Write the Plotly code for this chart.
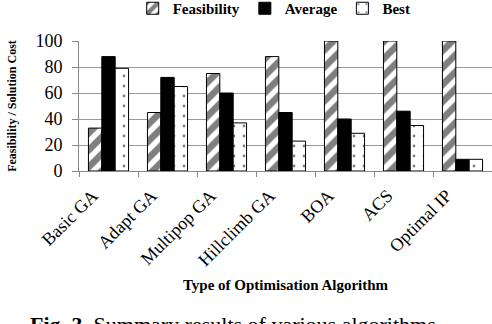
import plotly.graph_objects as go

algorithms = ["Basic GA", "Adapt GA", "Multipop GA", "Hillclimb GA", "BOA", "ACS", "Optimal IP"]
feasibility = [33, 45, 75, 88, 100, 100, 100]
average = [88, 72, 60, 45, 40, 46, 9]
best = [79, 65, 37, 23, 29, 35, 9]

serif = "Liberation Serif"

fig = go.Figure()
fig.add_trace(go.Bar(x=algorithms, y=feasibility, name="<b>Feasibility</b>",
                     marker=dict(color="white", line=dict(color="black", width=1),
                                 pattern=dict(shape="/", fgcolor="black", bgcolor="white",
                                              size=12, solidity=0.55))))
fig.add_trace(go.Bar(x=algorithms, y=average, name="<b>Average</b>",
                     marker=dict(color="black", line=dict(color="black", width=1))))
fig.add_trace(go.Bar(x=algorithms, y=best, name="<b>Best</b>",
                     marker=dict(color="white", line=dict(color="black", width=1),
                                 pattern=dict(shape=".", fgcolor="black", bgcolor="white",
                                              size=10, solidity=0.06))))

fig.update_layout(
    width=492, height=324,
    margin=dict(l=79, r=0, t=41, b=153, autoexpand=False),
    paper_bgcolor="white", plot_bgcolor="white",
    barmode="group", bargap=0.32, bargroupgap=0,
    font=dict(family=serif, color="black"),
    legend=dict(orientation="h", x=0.13, y=1.25, xanchor="left", yanchor="middle",
                font=dict(size=15, family=serif),
                itemwidth=30, tracegroupgap=0, bgcolor="rgba(0,0,0,0)"),
    xaxis=dict(showline=True, linecolor="#888", linewidth=1, ticks="outside",
               tickson="boundaries", ticklen=5, tickcolor="#888", tickangle=-45,
               automargin=False, tickfont=dict(size=18, family=serif),
               ticklabelshift=-16, ticklabelstandoff=6,
               title=dict(text="<b>Type of Optimisation Algorithm</b>", standoff=10,
                          font=dict(size=15, family=serif))),
    yaxis=dict(range=[0, 100], dtick=20, showline=True, linecolor="#888", linewidth=1,
               showgrid=True, gridcolor="#999", gridwidth=1, ticks="outside",
               automargin=False, ticklen=6, tickcolor="#888", ticklabelstandoff=6,
               tickfont=dict(size=18, family=serif),
               title=dict(text="<b>Feasibility / Solution Cost</b>", standoff=16,
                          font=dict(size=12, family=serif))),
    annotations=[dict(text="<b>Fig. 3.</b> Summary results of various algorithms",
                      xref="paper", yref="paper", x=-0.123, y=-1.07,
                      xanchor="left", yanchor="top", showarrow=False,
                      font=dict(size=22, family=serif))],
)

fig.write_html("out.html", config={"displayModeBar": False},
               post_script="document.body.style.margin='0';")
